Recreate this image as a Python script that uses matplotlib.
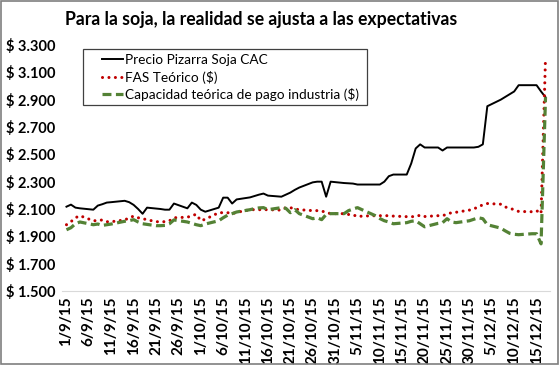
import numpy as np
import pandas as pd
import matplotlib
matplotlib.use("Agg")
import matplotlib.pyplot as plt
import matplotlib.dates as mdates
from matplotlib.patches import Rectangle

plt.rcParams['font.family'] = ['Lato', 'DejaVu Sans']

# Precio Pizarra Soja CAC (pizarra, $/t)
pizarra_fechas = ["2015-09-01", "2015-09-02", "2015-09-03", "2015-09-04", "2015-09-07", "2015-09-08",
                  "2015-09-09", "2015-09-10", "2015-09-11", "2015-09-14", "2015-09-15", "2015-09-16",
                  "2015-09-17", "2015-09-18", "2015-09-19", "2015-09-22", "2015-09-23", "2015-09-24",
                  "2015-09-25", "2015-09-28", "2015-09-29", "2015-09-30", "2015-10-01", "2015-10-02",
                  "2015-10-05", "2015-10-06", "2015-10-07", "2015-10-08", "2015-10-09", "2015-10-12",
                  "2015-10-13", "2015-10-14", "2015-10-15", "2015-10-16", "2015-10-19", "2015-10-20",
                  "2015-10-21", "2015-10-22", "2015-10-23", "2015-10-26", "2015-10-27", "2015-10-28",
                  "2015-10-29", "2015-10-30", "2015-11-02", "2015-11-03", "2015-11-04", "2015-11-05",
                  "2015-11-06", "2015-11-09", "2015-11-10", "2015-11-11", "2015-11-12", "2015-11-13",
                  "2015-11-16", "2015-11-17", "2015-11-18", "2015-11-19", "2015-11-20", "2015-11-23",
                  "2015-11-24", "2015-11-25", "2015-11-26", "2015-11-27", "2015-11-30", "2015-12-01",
                  "2015-12-02", "2015-12-03", "2015-12-04", "2015-12-07", "2015-12-08", "2015-12-09",
                  "2015-12-10", "2015-12-11", "2015-12-14", "2015-12-15", "2015-12-16", "2015-12-17"]
pizarra = [2117, 2132, 2110, 2105, 2095, 2125, 2135, 2147, 2150, 2160, 2150, 2130,
           2100, 2065, 2110, 2100, 2095, 2095, 2140, 2105, 2147, 2130, 2095, 2080,
           2110, 2183, 2183, 2140, 2170, 2185, 2195, 2205, 2213, 2198, 2190, 2205,
           2220, 2240, 2257, 2295, 2300, 2300, 2190, 2300, 2290, 2288, 2286, 2279,
           2279, 2279, 2279, 2300, 2340, 2352, 2352, 2433, 2543, 2573, 2550, 2550,
           2528, 2550, 2550, 2550, 2550, 2550, 2555, 2573, 2852, 2900, 2920, 2940,
           2960, 3006, 3006, 3006, 2960, 2918]

# FAS Teórico y capacidad de pago (días hábiles)
fechas = ["2015-09-01", "2015-09-02", "2015-09-03", "2015-09-04", "2015-09-07", "2015-09-08",
          "2015-09-09", "2015-09-10", "2015-09-11", "2015-09-14", "2015-09-15", "2015-09-16",
          "2015-09-17", "2015-09-18", "2015-09-21", "2015-09-22", "2015-09-23", "2015-09-24",
          "2015-09-25", "2015-09-28", "2015-09-29", "2015-09-30", "2015-10-01", "2015-10-02",
          "2015-10-05", "2015-10-06", "2015-10-07", "2015-10-08", "2015-10-09", "2015-10-12",
          "2015-10-13", "2015-10-14", "2015-10-15", "2015-10-16", "2015-10-19", "2015-10-20",
          "2015-10-21", "2015-10-22", "2015-10-23", "2015-10-26", "2015-10-27", "2015-10-28",
          "2015-10-29", "2015-10-30", "2015-11-02", "2015-11-03", "2015-11-04", "2015-11-05",
          "2015-11-06", "2015-11-09", "2015-11-10", "2015-11-11", "2015-11-12", "2015-11-13",
          "2015-11-16", "2015-11-17", "2015-11-18", "2015-11-19", "2015-11-20", "2015-11-23",
          "2015-11-24", "2015-11-25", "2015-11-26", "2015-11-27", "2015-11-30", "2015-12-01",
          "2015-12-02", "2015-12-03", "2015-12-04", "2015-12-07", "2015-12-08", "2015-12-09",
          "2015-12-10", "2015-12-11", "2015-12-14", "2015-12-15", "2015-12-16", "2015-12-17"]
fas = [1985, 2007, 2036, 2051, 2014, 2015, 2020, 2007, 2007, 2020, 2035, 2048,
       2036, 2029, 2007, 2007, 2007, 2014, 2036, 2040, 2050, 2062, 2014, 2025,
       2073, 2073, 2073, 2066, 2075, 2095, 2095, 2095, 2095, 2095, 2092, 2110,
       2110, 2100, 2095, 2088, 2088, 2085, 2075, 2066, 2066, 2060, 2058, 2044,
       2048, 2051, 2051, 2051, 2051, 2048, 2044, 2044, 2044, 2055, 2045, 2051,
       2051, 2062, 2073, 2076, 2092, 2100, 2118, 2130, 2140, 2135, 2115, 2105,
       2095, 2082, 2080, 2088, 2066, 3210]
capacidad = [1948, 1963, 1992, 2005, 1985, 1990, 1980, 1985, 1990, 2010, 2015, 2022,
             2005, 1992, 1978, 1978, 1980, 1992, 2020, 2005, 1995, 1985, 1978, 1990,
             2014, 2036, 2055, 2066, 2078, 2095, 2103, 2108, 2110, 2095, 2110, 2105,
             2073, 2095, 2066, 2029, 2036, 2022, 2060, 2066, 2066, 2088, 2100, 2110,
             2095, 2051, 2030, 2014, 2005, 1992, 2000, 2010, 2014, 1992, 1970, 1995,
             2000, 2029, 2005, 2000, 2014, 2025, 2036, 2029, 1985, 1960, 1940, 1922,
             1915, 1912, 1919, 1919, 1845, 2918]

y_ticks = [1500, 1700, 1900, 2100, 2300, 2500, 2700, 2900, 3100, 3300]

W, H = 560, 365
fig = plt.figure(figsize=(5.6, 3.65), dpi=100)
ax = fig.add_axes([62/W, 1 - 291/H, 488/W, 246/H])

ax.plot(pd.to_datetime(pizarra_fechas), pizarra, color='black', lw=1.4,
        label='Precio Pizarra Soja CAC')
ax.plot(pd.to_datetime(fechas), fas, color='#C00000', lw=2.2, ls=(0, (0.01, 2.1)),
        dash_capstyle='round', label='FAS Teórico ($)')
ax.plot(pd.to_datetime(fechas), capacidad, color='#548235', lw=2.3, ls=(0, (2.8, 1.4)),
        label='Capacidad teórica de pago industria ($)')

ax.set_ylim(1500, 3300)
ax.set_yticks(y_ticks)
ax.set_yticklabels(['$ ' + f"{v:,}".replace(',', '.') for v in y_ticks],
                   fontsize=10.5, fontweight='bold')

ticks = pd.date_range('2015-09-01', '2015-12-15', freq='5D')
ax.set_xlim(pd.Timestamp('2015-08-31'), pd.Timestamp('2015-12-18'))
ax.set_xticks(ticks)
ax.set_xticklabels([f"{d.day}/{d.month}/15" for d in ticks], rotation=90,
                   fontsize=11, fontweight='bold')

for s in ['top', 'right', 'left']:
    ax.spines[s].set_visible(False)
ax.spines['bottom'].set_color('#d9d9d9')
ax.tick_params(axis='both', length=0, pad=4)
ax.tick_params(axis='y', pad=5)

# legend without its own frame, box drawn separately
leg = ax.legend(loc='upper left', bbox_to_anchor=((98 - 62)/488, 1 - 5/246), fontsize=9.8,
                frameon=False, handlelength=1.55, handletextpad=0.15,
                borderpad=0.3, labelspacing=0.33, borderaxespad=0)
fig.patches.append(Rectangle((83/W, 1 - 105/H), 284/W, 56/H, transform=fig.transFigure,
                             fill=False, edgecolor='#404040', lw=0.9))

fig.text(261/W, 1 - 20/H, 'Para la soja, la realidad se ajusta a las expectativas',
         ha='center', va='center', fontsize=12.7, fontweight='bold')

fig.patches.append(Rectangle((0.002, 0.003), 0.995, 0.994, transform=fig.transFigure,
                             fill=False, edgecolor='#7f7f7f', lw=1.2))

fig.savefig('out.png', dpi=100)
